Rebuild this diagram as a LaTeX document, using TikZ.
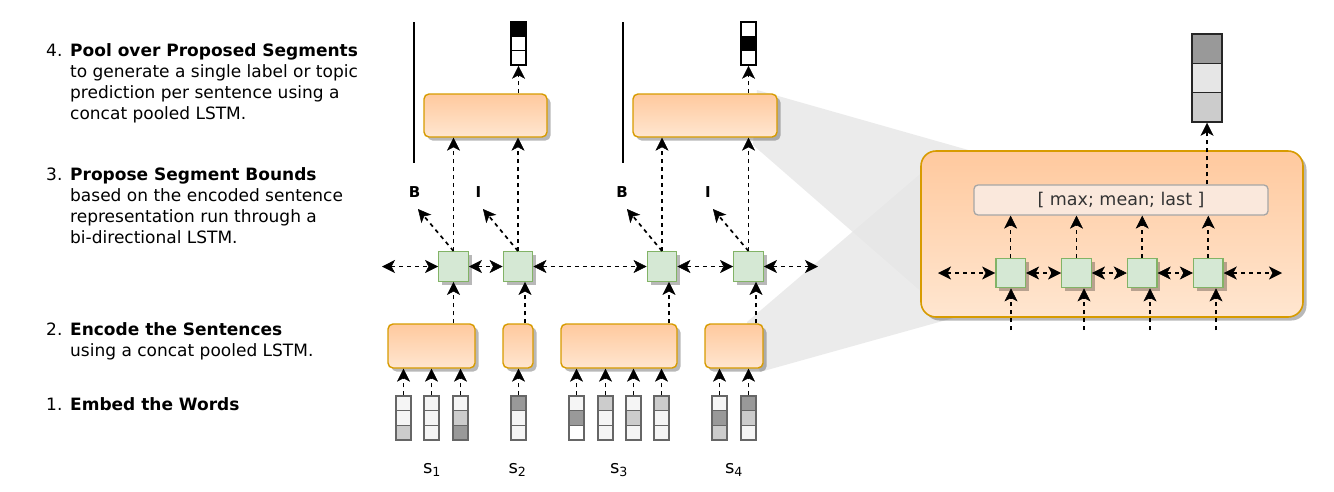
\documentclass[tikz,border=0pt]{standalone}
\usepackage{fontspec}
\setmainfont{DejaVu Sans}
\usetikzlibrary{arrows.meta,shadows,calc}
\definecolor{orTop}{HTML}{FFC99E}
\definecolor{orBot}{HTML}{FFE6D0}
\definecolor{orLine}{HTML}{D79B00}
\definecolor{grFill}{HTML}{D5E8D4}
\definecolor{grLine}{HTML}{82B366}
\definecolor{wedge}{HTML}{E6E6E6}
\definecolor{poolFill}{HTML}{FAE8DC}
\definecolor{poolLine}{HTML}{A6A6A6}
\definecolor{txt}{HTML}{333333}
\definecolor{cA}{HTML}{F5F5F5}
\definecolor{cB}{HTML}{CCCCCC}
\definecolor{cC}{HTML}{999999}
\definecolor{cD}{HTML}{E6E6E6}
\definecolor{cellLine}{HTML}{666666}
\begin{document}
\begin{tikzpicture}[x=1pt,y=-1pt,
  >={Stealth[length=13pt,width=13pt,inset=3.5pt,line width=0.5pt]},
  shad/.style={drop shadow={shadow xshift=3.5pt,shadow yshift=-3.5pt,fill=black,opacity=0.28}},
  orbox/.style={draw=orLine,line width=1.4pt,rounded corners=5pt,top color=orTop,bottom color=orBot,inner sep=0pt,shad},
  gsq/.style={draw=grLine,fill=grFill,line width=1.4pt,minimum size=29.5pt,inner sep=0pt,shad},
  cell/.style={draw=cellLine,line width=1.3pt,minimum width=15pt,minimum height=14.67pt,inner sep=0pt},
  ocell/.style={draw=black,line width=1.6pt,minimum width=15pt,minimum height=14.33pt,inner sep=0pt},
  bcell/.style={draw=black!85,line width=1.6pt,minimum width=30pt,minimum height=29.33pt,inner sep=0pt},
  arr/.style={dash pattern=on 4pt off 4pt,line width=1.7pt,->},
  darr/.style={dash pattern=on 4pt off 4pt,line width=1.7pt,<->},
  num/.style={anchor=base west,inner sep=0pt,font=\fontsize{17}{21}\selectfont},
  desc/.style={anchor=base west,inner sep=0pt,font=\fontsize{17}{21}\selectfont},
  lab/.style={inner sep=0pt,font=\fontsize{15}{18}\selectfont\bfseries},
  slab/.style={anchor=base,inner sep=0pt,font=\fontsize{18}{21}\selectfont},
  vline/.style={line width=1.6pt}
]
\useasboundingbox (0,0) rectangle (1334,491);

% zoom wedges
\fill[wedge,fill opacity=0.8] (757,90) -- (1000,159) -- (940,308) -- (753,145) -- cycle;
\fill[wedge,fill opacity=0.8] (747,322) -- (940,157) -- (1000,305) -- (760,372) -- cycle;

% left descriptions
\node[num] (n4) at (46,56) {4.};
\node[desc] (t4) at (70,56) {\begin{tabular}[t]{@{}l@{}}\textbf{Pool over Proposed Segments}\\to generate a single label or topic\\prediction per sentence using a\\concat pooled LSTM.\end{tabular}};
\node[num] (n3) at (46,180) {3.};
\node[desc] (t3) at (70,180) {\begin{tabular}[t]{@{}l@{}}\textbf{Propose Segment Bounds}\\based on the encoded sentence\\representation run through a\\bi-directional LSTM.\end{tabular}};
\node[num] (n2) at (46,335) {2.};
\node[desc] (t2) at (70,335) {\begin{tabular}[t]{@{}l@{}}\textbf{Encode the Sentences}\\using a concat pooled LSTM.\end{tabular}};
\node[num] (n1) at (46,410) {1.};
\node[desc] (t1) at (70,410) {\textbf{Embed the Words}};

% segment separators
\coordinate (v1t) at (414,22); \coordinate (v1b) at (414,163);
\coordinate (v2t) at (623,22); \coordinate (v2b) at (623,163);
\draw[vline] (v1t) -- (v1b);
\draw[vline] (v2t) -- (v2b);

% pooled boxes
\node[orbox,minimum width=123pt,minimum height=43pt] (p1) at (485.5,115.5) {};
\node[orbox,minimum width=144pt,minimum height=43pt] (p2) at (705,115.5) {};

% output vectors
\node[ocell,fill=black] (o1a) at (518.5,29.2) {};
\node[ocell,fill=white] (o1b) at (518.5,43.5) {};
\node[ocell,fill=white] (o1c) at (518.5,57.8) {};
\node[ocell,fill=white] (o2a) at (748.5,29.2) {};
\node[ocell,fill=black] (o2b) at (748.5,43.5) {};
\node[ocell,fill=white] (o2c) at (748.5,57.8) {};
\draw[arr] (o1c.south |- p1.north) -- (o1c.south);
\draw[arr] (o2c.south |- p2.north) -- (o2c.south);

% BiLSTM squares
\node[gsq] (s1) at (453.5,266.5) {};
\node[gsq] (s2) at (518,266.5) {};
\node[gsq] (s3) at (662,266.5) {};
\node[gsq] (s4) at (748.5,266.5) {};

\draw[arr] (s1.north) -- (s1.north |- p1.south);
\draw[arr] (s2.north) -- (s2.north |- p1.south);
\draw[arr] (s3.north) -- (s3.north |- p2.south);
\draw[arr] (s4.north) -- (s4.north |- p2.south);

\coordinate (hl) at (382,266.5);
\coordinate (hr) at (818,266.5);
\draw[darr] (hl) -- (s1.west);
\draw[darr] (s1.east) -- (s2.west);
\draw[darr] (s2.east) -- (s3.west);
\draw[darr] (s3.east) -- (s4.west);
\draw[darr] (s4.east) -- (hr);

% B / I labels
\coordinate (d1) at (418,209);
\coordinate (d2) at (483,209);
\coordinate (d3) at (627,209);
\coordinate (d4) at (713,209);
\draw[arr] (s1.north) -- (d1);
\draw[arr] (s2.north) -- (d2);
\draw[arr] (s3.north) -- (d3);
\draw[arr] (s4.north) -- (d4);
\node[lab] (b1) at (414.5,192) {B};
\node[lab] (i1) at (478.5,192) {I};
\node[lab] (b2) at (622,192) {B};
\node[lab] (i2) at (708,192) {I};

% sentence encoders
\node[orbox,minimum width=87pt,minimum height=44pt] (e1) at (431.5,346) {};
\node[orbox,minimum width=30pt,minimum height=44pt] (e2) at (518,346) {};
\node[orbox,minimum width=116pt,minimum height=44pt] (e3) at (619,346) {};
\node[orbox,minimum width=58pt,minimum height=44pt] (e4) at (734,346) {};

\coordinate (k1) at (s1.south);
\coordinate (k2) at ($(s2.south)+(7,0)$);
\coordinate (k3) at ($(s3.south)+(7,0)$);
\coordinate (k4) at ($(s4.south)+(7.5,0)$);
\draw[arr] (k1 |- e1.north) -- (k1);
\draw[arr] (k2 |- e2.north) -- (k2);
\draw[arr] (k3 |- e3.north) -- (k3);
\draw[arr] (k4 |- e4.north) -- (k4);

% word vectors
\foreach \n/\x/\ca/\cb/\cc/\e in {w1/403.5/cA/cA/cB/e1, w2/431.5/cA/cA/cA/e1, w3/460.5/cA/cB/cC/e1,
  w4/518.5/cC/cA/cA/e2,
  w5/576.5/cA/cC/white/e3, w6/605.5/cB/cA/cA/e3, w7/633.5/cA/cB/cA/e3, w8/661.5/cB/cA/cA/e3,
  w9/719.5/cA/cC/cB/e4, w10/748.5/cC/cB/cA/e4}{
  \node[cell,fill=\ca] (\n a) at (\x,403.3) {};
  \node[cell,fill=\cb] (\n b) at (\x,418) {};
  \node[cell,fill=\cc] (\n c) at (\x,432.7) {};
  \draw[arr] (\n a.north) -- (\n a.north |- \e.south);
}

\node[slab] (l1) at (432,473) {s\textsubscript{1}};
\node[slab] (l2) at (517.5,473) {s\textsubscript{2}};
\node[slab] (l3) at (619,473) {s\textsubscript{3}};
\node[slab] (l4) at (734,473) {s\textsubscript{4}};

% zoomed encoder
\node[orbox,rounded corners=15pt,line width=1.6pt,minimum width=382pt,minimum height=166pt] (bb) at (1112,234) {};
\node[draw=poolLine,fill=poolFill,line width=1.3pt,rounded corners=4pt,minimum width=294pt,minimum height=30pt,inner sep=0pt,text=txt,font=\fontsize{17.5}{21}\selectfont] (pt) at (1121,200) {[ max; mean; last ]};

\node[gsq] (r1) at (1010.6,273) {};
\node[gsq] (r2) at (1076.5,273) {};
\node[gsq] (r3) at (1142.2,273) {};
\node[gsq] (r4) at (1208.3,273) {};

\draw[arr] (r1.north) -- (r1.north |- pt.south);
\draw[arr] (r2.north) -- (r2.north |- pt.south);
\draw[arr] (r3.north) -- (r3.north |- pt.south);
\draw[arr] (r4.north) -- (r4.north |- pt.south);

\coordinate (ql) at (938,273);
\coordinate (qr) at (1282,273);
\draw[darr] (ql) -- (r1.west);
\draw[darr] (r1.east) -- (r2.west);
\draw[darr] (r2.east) -- (r3.west);
\draw[darr] (r3.east) -- (r4.west);
\draw[darr] (r4.east) -- (qr);

\coordinate (q1) at (1011,330);
\coordinate (q2) at (1084,330);
\coordinate (q3) at (1150,330);
\coordinate (q4) at (1216,330);
\draw[arr] (q1) -- (q1 |- r1.south);
\draw[arr] (q2) -- (q2 |- r2.south);
\draw[arr] (q3) -- (q3 |- r3.south);
\draw[arr] (q4) -- (q4 |- r4.south);

\node[bcell,fill=cC] (oa) at (1207,48.7) {};
\node[bcell,fill=cD] (ob) at (1207,78) {};
\node[bcell,fill=cB] (oc) at (1207,107.3) {};
\draw[arr] (oc.south |- pt.north) -- (oc.south);
\end{tikzpicture}
\end{document}
